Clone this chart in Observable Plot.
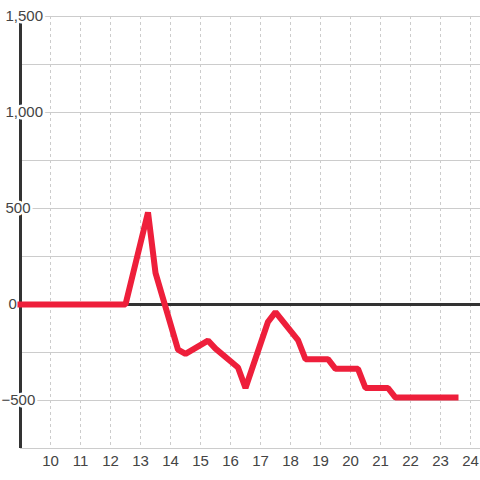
<!DOCTYPE html>
<html>
<head>
<meta charset="utf-8">
<script src="https://cdn.jsdelivr.net/npm/d3@7"></script>
<script src="https://cdn.jsdelivr.net/npm/@observablehq/plot@0.6"></script>
<style>
  html, body { margin: 0; padding: 0; background: #fff; }
</style>
</head>
<body>
<div id="chart"></div>
<script>
const times = [9, 12.5, 13.25, 13.5, 14.25, 14.5, 15.25, 15.5, 16.25, 16.5, 17.25, 17.5, 18.25, 18.5, 19.25, 19.5, 20.25, 20.5, 21.25, 21.5, 23.5];
const values = [0, 0, 480, 165, -235, -257, -188, -230, -328, -435, -90, -40, -185, -285, -285, -335, -335, -435, -435, -485, -485];
const xTicks = [10, 11, 12, 13, 14, 15, 16, 17, 18, 19, 20, 21, 22, 23, 24];
const yGrid = [-750, -500, -250, 0, 250, 500, 750, 1000, 1250, 1500];
const yLabels = [-500, 0, 500, 1000, 1500];

const data = times.map((t, i) => ({t, v: values[i]}));
const fmt = d3.format(",");
const labelStyle = {
  y: d => d,
  text: d => fmt(d),
  frameAnchor: "left",
  textAnchor: "start",
  lineAnchor: "middle",
  fill: "#444",
  stroke: "white",
  strokeWidth: 5,
  paintOrder: "stroke"
};

const chart = Plot.plot({
  width: 480,
  height: 480,
  marginLeft: 20,
  marginRight: 0,
  marginTop: 16,
  marginBottom: 32,
  x: {domain: [9, 24.3333], axis: null},
  y: {domain: [-750, 1500], axis: null},
  style: {fontFamily: "'Liberation Sans', Arial, sans-serif", fontSize: "15px", background: "white"},
  marks: [
    Plot.ruleY(yGrid, {stroke: "#ccc", strokeWidth: 1}),
    Plot.ruleX(xTicks, {stroke: "#ccc", strokeWidth: 1, strokeDasharray: "3,3"}),
    Plot.ruleX([9], {stroke: "#333", strokeWidth: 3}),
    Plot.ruleY([0], {stroke: "#333", strokeWidth: 3}),
    Plot.text(yLabels.filter(d => d > 0), {...labelStyle, dx: -15}),
    Plot.text(yLabels.filter(d => d === 0), {...labelStyle, dx: -12}),
    Plot.text(yLabels.filter(d => d < 0), {...labelStyle, dx: -19}),
    Plot.line(data, {x: "t", y: "v", stroke: "#ee1f3b", strokeWidth: 6, strokeLinecap: "square", strokeLinejoin: "miter"}),
    Plot.text(xTicks, {x: d => d, text: d => String(d), frameAnchor: "bottom", dy: 13, lineAnchor: "middle", fill: "#444"})
  ]
});
document.getElementById("chart").appendChild(chart);
</script>
</body>
</html>
